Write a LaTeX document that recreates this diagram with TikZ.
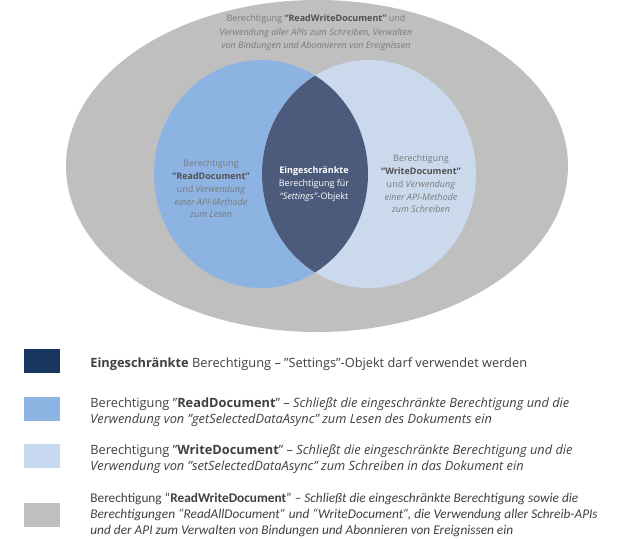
\documentclass[tikz,border=0pt]{standalone}
\usepackage{fontspec}
\setmainfont{Open Sans}
\newfontfamily\carlitofont{Carlito}
\usetikzlibrary{positioning}
\definecolor{rwgray}{HTML}{BFBFBF}
\definecolor{readblue}{HTML}{8DB3E2}
\definecolor{writeblue}{HTML}{CAD9EC}
\definecolor{lensblue}{HTML}{4C5B7B}
\definecolor{keynavy}{HTML}{17375E}
\definecolor{keylight}{HTML}{C6D9F1}
\definecolor{venngray}{HTML}{7A7A7A}
\definecolor{boldgray}{HTML}{505050}
\definecolor{legendgray}{HTML}{404040}
\begin{document}
\begin{tikzpicture}[x=1pt,y=-1pt,
	venntext/.style={align=center,text=venngray,inner sep=0pt,font=\fontsize{9}{12.8}\selectfont},
	keybox/.style={minimum width=36pt,minimum height=24pt,inner sep=0pt},
	keytext/.style={right=30pt of #1,yshift=-3pt,align=left,text=legendgray,inner sep=0pt,font=\fontsize{12.8}{16}\selectfont}]
	\useasboundingbox (0,0) rectangle (633,539);
	\fill[white] (0,0) rectangle (633,539);
	\fill[rwgray] (317,166) ellipse [x radius=251,y radius=166];
	\fill[readblue] (261,174) ellipse [x radius=107,y radius=114];
	\fill[writeblue] (369,174) ellipse [x radius=107,y radius=114];
	\begin{scope}
		\clip (261,174) ellipse [x radius=107,y radius=114];
		\fill[lensblue] (369,174) ellipse [x radius=107,y radius=114];
	\end{scope}
	\node[venntext,font=\fontsize{9}{13.5}\selectfont] (rwlabel) at (316,33) {Berechtigung \textcolor{boldgray}{\textbf{“ReadWriteDocument”}} und\\\textit{Verwendung aller APIs zum Schreiben, Verwalten}\\\textit{von Bindungen und Abonnieren von Ereignissen}};
	\node[venntext] (readlabel) at (211,189) {Berechtigung\\\textcolor{boldgray}{\textbf{“ReadDocument”}}\\und \textit{Verwendung}\\\textit{einer API-Methode}\\\textit{zum Lesen}};
	\node[venntext,text=white] (lenslabel) at (314,184) {\textbf{Eingeschränkte}\\Berechtigung für\\\textit{“Settings”}-Objekt};
	\node[venntext] (writelabel) at (421,184) {Berechtigung\\\textcolor{boldgray}{\textbf{“WriteDocument”}}\\und \textit{Verwendung}\\\textit{einer API-Methode}\\\textit{zum Schreiben}};
	\node[keybox,fill=keynavy] (keylens) at (42,361) {};
	\node[keytext=keylens] (lenskey) {\textbf{Eingeschränkte} Berechtigung – "Settings"-Objekt darf verwendet werden};
	\node[keybox,fill=readblue] (keyread) at (42,409) {};
	\node[keytext=keyread] (readkey) {Berechtigung "\textbf{ReadDocument}" – \textit{Schließt die eingeschränkte Berechtigung und die}\\\textit{Verwendung von "getSelectedDataAsync" zum Lesen des Dokuments ein}};
	\node[keybox,fill=keylight] (keywrite) at (42,456) {};
	\node[keytext=keywrite] (writekey) {Berechtigung "\textbf{WriteDocument}" – \textit{Schließt die eingeschränkte Berechtigung und die}\\\textit{Verwendung von "setSelectedDataAsync" zum Schreiben in das Dokument ein}};
	\node[keybox,fill=rwgray] (keyrw) at (42,515) {};
	\node[keytext=keyrw,yshift=3pt,font=\carlitofont\fontsize{13.3}{16}\selectfont] (rwkey) {Berechtigung “\textbf{ReadWriteDocument}” – \textit{Schließt die eingeschränkte Berechtigung sowie die}\\\textit{Berechtigungen “ReadAllDocument” und “WriteDocument”, die Verwendung aller Schreib-APIs}\\\textit{und der API zum Verwalten von Bindungen und Abonnieren von Ereignissen ein}};
\end{tikzpicture}
\end{document}
